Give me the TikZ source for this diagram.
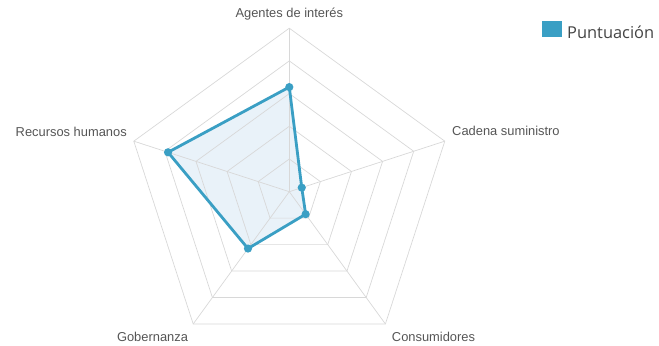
\documentclass[tikz,border=0pt]{standalone}
\usepackage{fontspec}
\setmainfont{Liberation Sans}
\newfontfamily\legendfont{Open Sans}
\definecolor{scoreblue}{HTML}{3A9FC4}
\definecolor{scorefill}{HTML}{E9F2F9}
\definecolor{gridgray}{HTML}{D8D8D8}
\definecolor{labelgray}{HTML}{555555}
\begin{document}
\begin{tikzpicture}[x=0.03cm,y=0.03cm]
\tikzstyle{grid} = [draw=gridgray,line width=0.6];
\tikzstyle{axislabel} = [font=\fontsize{11}{13}\selectfont,color=labelgray,inner sep=0];
\tikzstyle{dot} = [circle,fill=scoreblue,inner sep=0,minimum size=7];
\tikzstyle{score} = [line width=2.4,draw=scoreblue,line join=round];
\useasboundingbox (-289.3,-154.3) rectangle (369.7,191.7);
% values
\coordinate (p1) at (90:104.6);
\coordinate (p2) at (18:13.1);
\coordinate (p3) at (-54:27.8);
\coordinate (p4) at (-126:70.3);
\coordinate (p5) at (162:127.5);
\fill [scorefill] (p1) -- (p2) -- (p3) -- (p4) -- (p5) -- cycle;
% rings and spokes
\foreach \r in {32.7,65.4,98.1,130.8,163.5}
  \draw [grid] (90:\r) -- (18:\r) -- (-54:\r) -- (-126:\r) -- (162:\r) -- cycle;
\foreach \a in {90,18,-54,-126,162}
  \draw [grid] (0,0) -- (\a:163.5);
\draw [score] (p1) -- (p2) -- (p3) -- (p4) -- (p5) -- cycle;
\foreach \p in {p1,p2,p3,p4,p5}
  \node [dot] at (\p) {};
% labels
\node [axislabel] (l1) at (0,177.7) {Agentes de interés};
\node [axislabel,anchor=west] (l2) at (162.7,60.7) {Cadena suministro};
\node [axislabel] (l3) at (144.2,-145.3) {Consumidores};
\node [axislabel] (l4) at (-136.8,-145.3) {Gobernanza};
\node [axislabel,anchor=east] (l5) at (-162.3,59.7) {Recursos humanos};
% legend
\fill [scoreblue] (252.7,154.7) rectangle (272.7,170.7);
\node [font=\legendfont\fontsize{14}{16}\selectfont,color=labelgray!80!black,anchor=base west,inner sep=0] (leg) at (277.7,152.7) {Puntuación};
\end{tikzpicture}
\end{document}
